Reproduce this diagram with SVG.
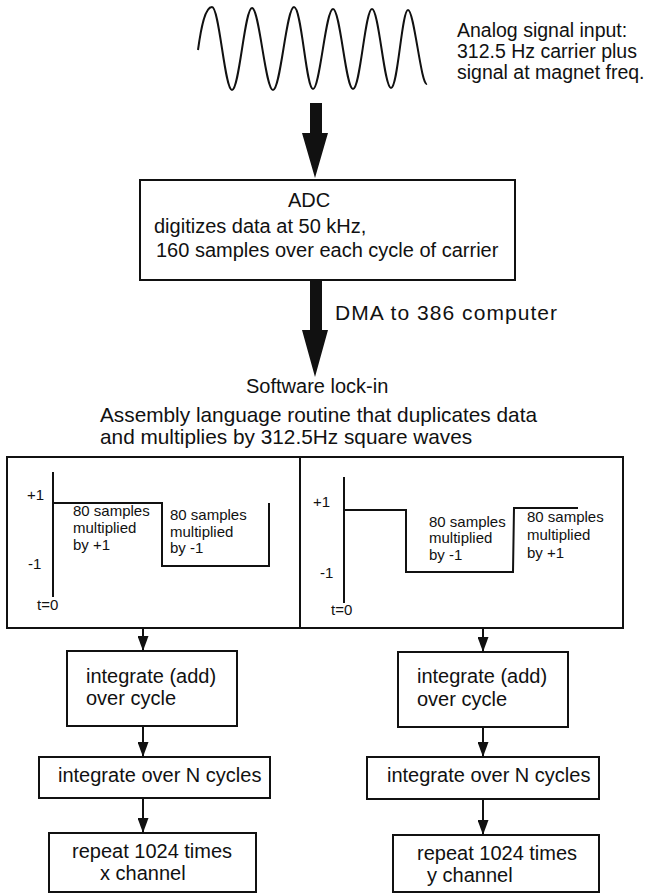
<svg xmlns="http://www.w3.org/2000/svg" width="657" height="894" viewBox="0 0 657 894">
<style>
text{font-family:"Liberation Sans",Arial,Helvetica,sans-serif;fill:#111}
.t20{font-size:20px}
.t21{font-size:20.8px}
.t195{font-size:19.5px}
.t15{font-size:15px}
.box{fill:#fff;stroke:#111;stroke-width:2}
.ln{fill:none;stroke:#111;stroke-width:2}
.con{fill:none;stroke:#111;stroke-width:2}
.big{fill:#111;stroke:none}
</style>
<defs>
<marker id="ah" markerUnits="userSpaceOnUse" markerWidth="15" markerHeight="11" refX="15" refY="5.5" orient="auto" viewBox="0 0 15 11">
<path d="M0,0 L15,5.5 L0,11 z" fill="#111"/>
</marker>
</defs>
<rect width="657" height="894" fill="#fff"/>

<g id="input-signal">
<path class="ln" stroke-width="2.4" d="M198,50 C201,28 205,7 212,7 C219.3,7 224.7,90 232,90 S244.7,8 252,8 S265.4,90 273,90 S286.4,7 294,7 S306.1,89 313,89 S325.7,9 333,9 S345.7,89 353,89 S365.1,9 372,9 S384.1,88 391,88 S401.8,10 408,10 S421,86 427,84"/>
<text class="t195" x="457" y="37">Analog signal input:</text>
<text class="t195" x="457" y="58">312.5 Hz carrier plus</text>
<text class="t195" x="457" y="79">signal at magnet  freq.</text>
</g>

<g id="adc">
<rect class="box" x="140" y="180" width="375" height="100"/>
<text class="t20" x="309" y="207" text-anchor="middle">ADC</text>
<text class="t20" x="154" y="233">digitizes data at 50 kHz,</text>
<text class="t20" x="156" y="257">160 samples over each cycle of carrier</text>
</g>

<g id="dma-label">
<text x="335" y="320" font-size="21" textLength="222" lengthAdjust="spacing">DMA to 386 computer</text>
</g>

<g id="software-lockin">
<text class="t20" x="246" y="393">Software lock-in</text>
<text class="t21" x="100" y="422">Assembly language routine that duplicates data</text>
<text class="t21" x="100" y="444">and multiplies by 312.5Hz square waves</text>
</g>

<g id="square-waves">
<rect class="box" x="7" y="457" width="616" height="171"/>
<line class="ln" x1="300" y1="457" x2="300" y2="628"/>
</g>

<g id="x-reference">
<line class="ln" x1="53" y1="472" x2="53" y2="597"/>
<path class="ln" d="M53,503 H162 V566 H269 V503"/>
<text class="t15" x="27" y="500">+1</text>
<text class="t15" x="28" y="569">-1</text>
<text class="t15" x="37" y="610">t=0</text>
<text class="t15" x="73" y="516">80 samples</text>
<text class="t15" x="73" y="533">multiplied</text>
<text class="t15" x="73" y="550">by +1</text>
<text class="t15" x="170" y="520">80 samples</text>
<text class="t15" x="170" y="537">multiplied</text>
<text class="t15" x="170" y="553">by -1</text>
</g>

<g id="y-reference">
<line class="ln" x1="344" y1="477" x2="344" y2="603"/>
<path class="ln" d="M344,510 H406 V572 H513 L514,508 H578"/>
<text class="t15" x="313" y="507">+1</text>
<text class="t15" x="320" y="578">-1</text>
<text class="t15" x="331" y="615">t=0</text>
<text class="t15" x="429" y="527">80 samples</text>
<text class="t15" x="429" y="543">multiplied</text>
<text class="t15" x="429" y="560">by -1</text>
<text class="t15" x="527" y="522">80 samples</text>
<text class="t15" x="527" y="540">multiplied</text>
<text class="t15" x="527" y="558">by +1</text>
</g>

<g id="integrate-cycle-x">
<rect class="box" x="67" y="651" width="170" height="75"/>
<text class="t20" x="86" y="683">integrate (add)</text>
<text class="t20" x="86" y="705">over cycle</text>
</g>
<g id="integrate-n-x">
<rect class="box" x="39" y="757" width="231" height="41"/>
<text class="t20" x="58" y="782">integrate over N cycles</text>
</g>
<g id="repeat-x">
<rect class="box" x="49" y="833" width="207" height="59"/>
<text class="t20" x="72" y="858">repeat 1024 times</text>
<text class="t20" x="100" y="880">x channel</text>
</g>

<g id="integrate-cycle-y">
<rect class="box" x="398" y="652" width="170" height="75"/>
<text class="t20" x="417" y="683">integrate (add)</text>
<text class="t20" x="417" y="706">over cycle</text>
</g>
<g id="integrate-n-y">
<rect class="box" x="367" y="757" width="232" height="42"/>
<text class="t20" x="387" y="782">integrate over N cycles</text>
</g>
<g id="repeat-y">
<rect class="box" x="393" y="835" width="206" height="57"/>
<text class="t20" x="417" y="860">repeat 1024 times</text>
<text class="t20" x="427" y="882">y channel</text>
</g>

<g id="connectors">
<path class="big" d="M310,103 H322 V133 H328 L315,178 L302,133 H310 Z"/>
<path class="big" d="M310,280 H322 V330 H328 L315,377 L302,330 H310 Z"/>
<line class="con" x1="143" y1="628" x2="143" y2="651" marker-end="url(#ah)"/>
<line class="con" x1="143" y1="726" x2="143" y2="757" marker-end="url(#ah)"/>
<line class="con" x1="143" y1="798" x2="143" y2="833" marker-end="url(#ah)"/>
<line class="con" x1="483" y1="628" x2="483" y2="652" marker-end="url(#ah)"/>
<line class="con" x1="483" y1="727" x2="483" y2="757" marker-end="url(#ah)"/>
<line class="con" x1="483" y1="799" x2="483" y2="835" marker-end="url(#ah)"/>
</g>
</svg>
